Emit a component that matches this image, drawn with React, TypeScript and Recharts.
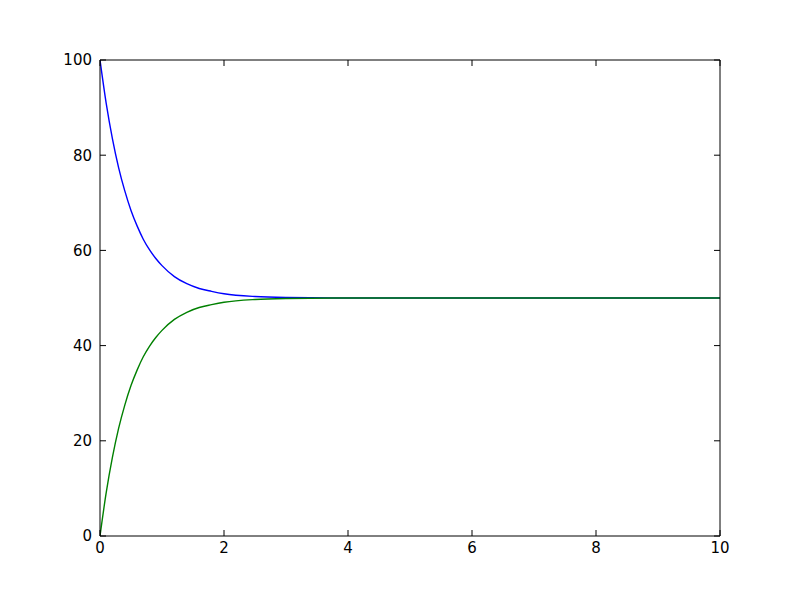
import React from "react";
import { LineChart, Line, XAxis, YAxis } from "recharts";

const times = [0, 0.1, 0.2, 0.3, 0.4, 0.5, 0.6, 0.7, 0.8, 0.9, 1.0, 1.2, 1.4, 1.6, 1.8, 2.0, 2.5, 3.0, 4, 5, 6, 7, 8, 9, 10];
const blueValues = [100, 90.9, 83.5, 77.4, 72.5, 68.4, 65.1, 62.3, 60.1, 58.3, 56.8, 54.5, 53.0, 52.0, 51.4, 50.9, 50.3, 50.1, 50, 50, 50, 50, 50, 50, 50];
const greenValues = [0, 9.1, 16.5, 22.6, 27.5, 31.6, 34.9, 37.7, 39.9, 41.7, 43.2, 45.5, 47.0, 48.0, 48.6, 49.1, 49.7, 49.9, 50, 50, 50, 50, 50, 50, 50];
const xTicks = [0, 2, 4, 6, 8, 10];
const yTicks = [0, 20, 40, 60, 80, 100];

const data = times.map((t, i) => ({ t, blue: blueValues[i], green: greenValues[i] }));

const FONT = "DejaVu Sans";
const TL = 6;

const LeftTick = (p: any) => (
  <g>
    <line x1={p.x} y1={p.y} x2={p.x + TL} y2={p.y} stroke="#000" strokeWidth={1} />
    <text x={p.x - 8} y={p.y} dy="0.36em" textAnchor="end" fontFamily={FONT} fontSize={15} fill="#000">
      {p.payload.value}
    </text>
  </g>
);
const RightTick = (p: any) => (
  <line x1={p.x} y1={p.y} x2={p.x - TL} y2={p.y} stroke="#000" strokeWidth={1} />
);
const BottomTick = (p: any) => (
  <g>
    <line x1={p.x} y1={p.y} x2={p.x} y2={p.y - TL} stroke="#000" strokeWidth={1} />
    <text x={p.x} y={p.y + 6} dy="0.76em" textAnchor="middle" fontFamily={FONT} fontSize={15} fill="#000">
      {p.payload.value}
    </text>
  </g>
);
const TopTick = (p: any) => (
  <line x1={p.x} y1={p.y} x2={p.x} y2={p.y + TL} stroke="#000" strokeWidth={1} />
);

export default function App() {
  return (
    <div style={{ position: "absolute", left: 0, top: 0, width: 800, height: 596, background: "#fff" }}>
      <LineChart width={800} height={596} data={data} margin={{ top: 0, right: 0, bottom: 0, left: 0 }}>
        <XAxis xAxisId="b" dataKey="t" type="number" domain={[0, 10]} ticks={xTicks} orientation="bottom" height={60}
          tickSize={0} tickMargin={0} tickLine={false} axisLine={{ stroke: "#000" }} tick={<BottomTick />} allowDataOverflow />
        <XAxis xAxisId="t" dataKey="t" type="number" domain={[0, 10]} ticks={xTicks} orientation="top" height={60}
          tickSize={0} tickMargin={0} tickLine={false} axisLine={{ stroke: "#000" }} tick={<TopTick />} allowDataOverflow />
        <YAxis yAxisId="l" type="number" domain={[0, 100]} ticks={yTicks} orientation="left" width={100}
          tickSize={0} tickMargin={0} tickLine={false} axisLine={{ stroke: "#000" }} tick={<LeftTick />} allowDataOverflow />
        <YAxis yAxisId="r" type="number" domain={[0, 100]} ticks={yTicks} orientation="right" width={80}
          tickSize={0} tickMargin={0} tickLine={false} axisLine={{ stroke: "#000" }} tick={<RightTick />} allowDataOverflow />
        <Line xAxisId="b" yAxisId="l" type="monotone" dataKey="blue" stroke="#0000ff" strokeWidth={1.4} dot={false} isAnimationActive={false} />
        <Line xAxisId="b" yAxisId="l" type="monotone" dataKey="green" stroke="#008000" strokeWidth={1.4} dot={false} isAnimationActive={false} />
      </LineChart>
    </div>
  );
}
